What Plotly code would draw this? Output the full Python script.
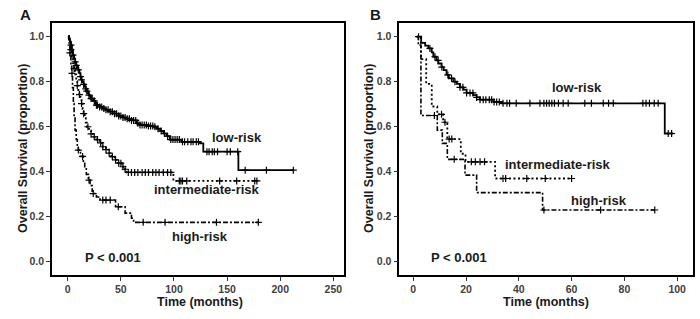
import numpy as np
import plotly.graph_objects as go

# ---------------- Panel A data ----------------
a_low_t = [0.5, 1, 2, 3, 4, 5, 6, 7, 8, 9, 10, 11, 12, 13, 14, 15, 16, 17, 18, 19, 20, 21, 22, 24, 26, 27,
           30, 33, 36, 40, 44, 48, 52, 56, 60, 65, 68, 75, 81, 84, 87, 90, 93, 96, 107, 124.5, 127.6, 160.6, 212.3]
a_low_s = [1.0, 0.99, 0.975, 0.96, 0.94, 0.915, 0.90, 0.885, 0.87, 0.86, 0.85, 0.835, 0.82, 0.805, 0.795, 0.785,
           0.775, 0.765, 0.755, 0.745, 0.737, 0.73, 0.722, 0.712, 0.70, 0.693, 0.685, 0.678, 0.672, 0.664, 0.655,
           0.645, 0.638, 0.632, 0.625, 0.612, 0.605, 0.60, 0.597, 0.588, 0.578, 0.567, 0.555, 0.54, 0.53, 0.523,
           0.486, 0.404, 0.404]
a_low_c = [3, 5, 7, 8, 10, 12, 13, 15, 17, 18, 20, 22, 23, 25, 27, 28, 30, 32, 34, 36, 38, 40, 42, 44, 46, 48,
           50, 52, 54, 56, 58, 60, 62, 64, 66, 68, 70, 72, 74, 76, 78, 80, 82, 85, 88, 91, 94, 97, 99, 101, 103,
           105, 108, 110, 113, 116, 118, 121, 123, 131, 133, 136, 138, 141, 150, 153, 160, 167, 187, 212.3]

a_int_t = [0.5, 1, 2, 3, 4, 5, 6, 7, 8, 9, 10, 11, 12, 13, 14, 15, 16, 17, 18, 20, 22, 24, 27, 30, 33, 36, 39,
           41, 44, 47, 51, 53, 55.5, 99.4, 178]
a_int_s = [1.0, 0.985, 0.967, 0.94, 0.91, 0.88, 0.855, 0.83, 0.80, 0.78, 0.76, 0.74, 0.72, 0.70, 0.675, 0.655,
           0.635, 0.615, 0.597, 0.58, 0.565, 0.552, 0.54, 0.525, 0.508, 0.495, 0.48, 0.464, 0.45, 0.435, 0.419,
           0.408, 0.394, 0.356, 0.356]
a_int_c = [3, 6, 9, 11, 13, 15, 19, 22, 25, 28, 31, 33, 36, 39, 42, 45, 48, 50, 52, 54, 57, 60, 63, 66, 70, 73,
           76, 80, 83, 86, 90, 94, 97, 105, 106.5, 108, 112, 143, 159, 176, 178]

a_high_t = [0.5, 1, 2, 3, 3.8, 4.5, 5.3, 6, 6.9, 8, 9, 10, 12, 14.7, 16, 17.5, 19.4, 21, 23, 24, 27, 30.4, 45,
            54, 60, 62, 179.4]
a_high_s = [1.0, 0.97, 0.925, 0.87, 0.834, 0.77, 0.70, 0.64, 0.582, 0.54, 0.51, 0.493, 0.465, 0.434, 0.41,
            0.385, 0.36, 0.335, 0.31, 0.30, 0.285, 0.271, 0.241, 0.213, 0.19, 0.172, 0.172]
a_high_c = [2, 4, 10, 14, 20, 24, 33, 36, 40, 47.6, 71, 91.6, 140, 179.4]

# ---------------- Panel B data ----------------
b_low_t = [1.3, 3.0, 4.5, 5.7, 7.0, 7.6, 8.8, 9.5, 10.7, 11.5, 12.6, 13.5, 15.2, 16.5, 17.7, 19.0, 20.2, 22.7,
           24.0, 25.3, 30.5, 33.5, 95.3, 98.5]
b_low_s = [1.0, 0.973, 0.96, 0.948, 0.93, 0.911, 0.895, 0.881, 0.865, 0.852, 0.83, 0.815, 0.80, 0.79, 0.775,
           0.765, 0.75, 0.74, 0.73, 0.72, 0.71, 0.704, 0.57, 0.57]
b_low_c = [2, 6.3, 8.2, 9.4, 10.8, 13.1, 14.5, 15.8, 17.7, 18.8, 20.2, 21.5, 22.6, 24, 25.3, 26.5, 27.5, 28.8,
           29.7, 30.6, 31.6, 32.6, 34, 35.5, 36.5, 39, 44.2, 48, 49.5, 50.5, 51.5, 52.5, 53.5, 55, 56.8, 58.7,
           65, 67.5, 72, 74, 75.8, 87, 88.2, 89.5, 91.3, 92.8, 96.6, 97.9]

b_int_t = [1.3, 2.9, 4.9, 7.0, 9.1, 11.3, 12.9, 18.0, 19.8, 31.0, 60.0]
b_int_s = [1.0, 0.90, 0.79, 0.69, 0.655, 0.62, 0.545, 0.48, 0.444, 0.37, 0.37]
b_int_c = [10.7, 12, 13.6, 14.6, 22, 23.5, 25.3, 27, 34, 35, 43, 50, 60]

b_high_t = [1.3, 1.9, 2.9, 9.1, 11.0, 12.9, 19.6, 24.0, 49.0, 91.5]
b_high_s = [1.0, 0.963, 0.65, 0.585, 0.526, 0.455, 0.385, 0.307, 0.23, 0.23]
b_high_c = [8, 15.5, 49.5, 71, 91.5]

FONT = "Arial, Liberation Sans, sans-serif"


def step_value(times, surv, t):
    idx = np.searchsorted(np.array(times), np.array(t), side="right") - 1
    return np.array(surv)[np.clip(idx, 0, len(surv) - 1)]


fig = go.Figure()

styles = {
    "low": dict(dash="solid", width=1.8),
    "int": dict(dash="2px,2.5px", width=1.8),
    "high": dict(dash="5px,2px,2px,2px", width=1.6),
}

panels = [
    ("x", "y", [(a_high_t, a_high_s, a_high_c, "high"), (a_int_t, a_int_s, a_int_c, "int"),
                (a_low_t, a_low_s, a_low_c, "low")]),
    ("x2", "y2", [(b_high_t, b_high_s, b_high_c, "high"), (b_int_t, b_int_s, b_int_c, "int"),
                  (b_low_t, b_low_s, b_low_c, "low")]),
]

for xa, ya, curves in panels:
    for t, s, c, key in curves:
        fig.add_trace(go.Scatter(x=t, y=s, mode="lines", line_shape="hv",
                                 line=dict(color="black", **styles[key]),
                                 xaxis=xa, yaxis=ya, showlegend=False, hoverinfo="skip"))
        fig.add_trace(go.Scatter(x=c, y=step_value(t, s, c), mode="markers",
                                 marker=dict(symbol="cross-thin", size=5,
                                             line=dict(color="black", width=1.2)),
                                 xaxis=xa, yaxis=ya, showlegend=False, hoverinfo="skip"))

ydom = [1 - 275 / 319, 1 - 23 / 319]
axis_common = dict(showline=True, linecolor="black", linewidth=1.5, mirror=True, ticks="outside",
                   ticklen=4, tickwidth=1, tickcolor="#333", showgrid=False, zeroline=False,
                   tickfont=dict(family=FONT, size=10.5, color="#404040", weight="bold"))

fig.update_layout(
    width=700, height=319, margin=dict(l=0, r=0, t=0, b=0),
    paper_bgcolor="white", plot_bgcolor="white",
    xaxis=dict(domain=[52 / 700, 344 / 700], range=[-14.8, 260], tickvals=[0, 50, 100, 150, 200, 250],
               anchor="y", **axis_common),
    yaxis=dict(domain=ydom, range=[-0.062, 1.058], tickvals=[0, 0.2, 0.4, 0.6, 0.8, 1.0],
               tickformat=".1f", anchor="x", **axis_common),
    xaxis2=dict(domain=[399.3 / 700, 693 / 700], range=[-5.3, 106], tickvals=[0, 20, 40, 60, 80, 100],
                anchor="y2", **axis_common),
    yaxis2=dict(domain=ydom, range=[-0.059, 1.061], tickvals=[0, 0.2, 0.4, 0.6, 0.8, 1.0],
                tickformat=".1f", anchor="x2", **axis_common),
)

lab = dict(family=FONT, size=13, color="#1a1a1a", weight="bold")
ann = []
for xr, yr, x, y, txt in [
    ("x", "y", 159, 0.548, "low-risk"), ("x", "y", 131.3, 0.319, "intermediate-risk"),
    ("x", "y", 124.5, 0.108, "high-risk"), ("x", "y", 42.2, 0.015, "P < 0.001"),
    ("x2", "y2", 62.2, 0.775, "low-risk"), ("x2", "y2", 54.9, 0.433, "intermediate-risk"),
    ("x2", "y2", 70.5, 0.274, "high-risk"), ("x2", "y2", 17.4, 0.02, "P < 0.001"),
]:
    ann.append(dict(xref=xr, yref=yr, x=x, y=y, text=txt, showarrow=False, font=lab,
                    xanchor="center", yanchor="middle"))


def px(xp):
    return xp / 700


def py(yp):
    return 1 - yp / 319


title_font = dict(family=FONT, size=12.5, color="#1a1a1a", weight="bold")
for xc, yc, txt, rot in [(23, 149, "Overall Survival (proportion)", -90),
                         (369, 149, "Overall Survival (proportion)", -90),
                         (200, 302, "Time (months)", 0), (546, 302, "Time (months)", 0)]:
    ann.append(dict(xref="paper", yref="paper", x=px(xc), y=py(yc), text=txt, showarrow=False,
                    font=title_font, textangle=rot, xanchor="center", yanchor="middle"))

for xc, yc, txt in [(25, 14, "A"), (375, 14, "B")]:
    ann.append(dict(xref="paper", yref="paper", x=px(xc), y=py(yc), text=txt, showarrow=False,
                    font=dict(family=FONT, size=15, color="#1a1a1a", weight="bold"),
                    xanchor="center", yanchor="middle"))

fig.update_layout(annotations=ann)
fig.write_html("out.html", config={"displayModeBar": False},
               post_script="document.body.style.margin='0';document.body.style.padding='0';")
